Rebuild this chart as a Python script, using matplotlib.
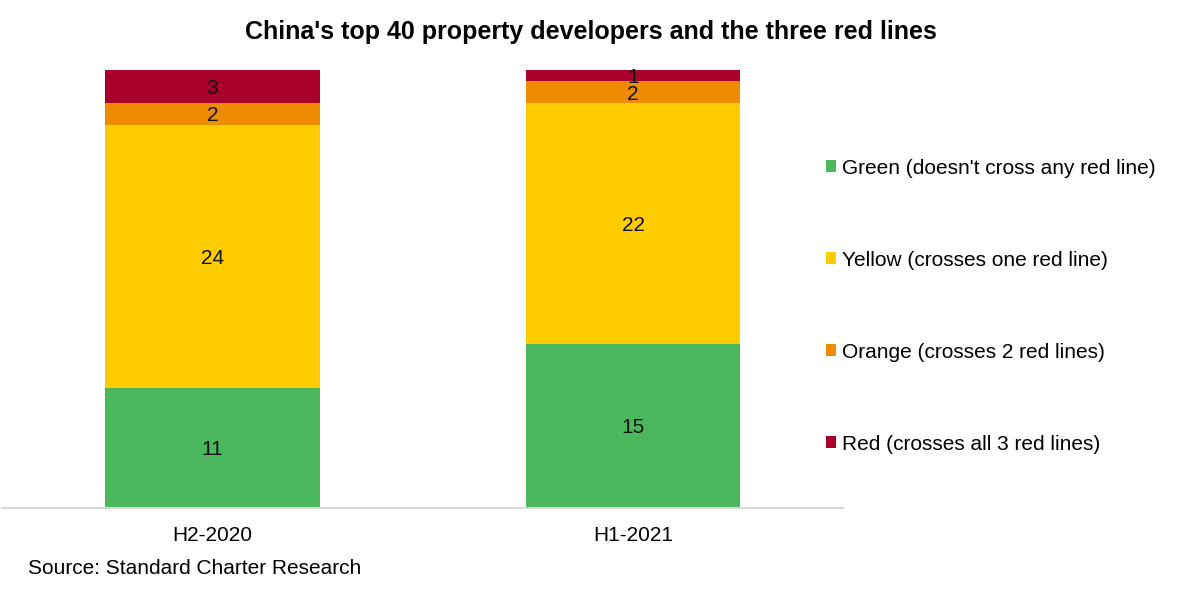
import matplotlib
matplotlib.use('Agg')
import matplotlib.pyplot as plt
from matplotlib.patches import Patch

plt.rcParams['font.family'] = ['Liberation Sans', 'DejaVu Sans']

# ---------- Data ----------
periods = ['H2-2020', 'H1-2021']
green = [11, 15]
yellow = [24, 22]
orange = [2, 2]
red = [3, 1]

series = [
    ("Green (doesn't cross any red line)", green, '#4cb85e'),
    ('Yellow (crosses one red line)', yellow, '#ffcc00'),
    ('Orange (crosses 2 red lines)', orange, '#ee8c00'),
    ('Red (crosses all 3 red lines)', red, '#a8002a'),
]

FS = 15

# ---------- Render ----------
fig = plt.figure(figsize=(11.81, 5.90), dpi=100)
ax = fig.add_axes([0.0017, 0.139, 0.7125, 0.742])

x = list(range(len(periods)))
bottom = [0] * len(periods)
for label, vals, col in series:
    ax.bar(x, vals, width=0.51, bottom=bottom, color=col, label=label, zorder=2)
    for xi, b, v in zip(x, bottom, vals):
        ax.text(xi, b + v / 2, str(v), ha='center', va='center_baseline',
                fontsize=FS, color='#111')
    bottom = [b + v for b, v in zip(bottom, vals)]

ax.set_xlim(-0.5, 1.5)
ax.set_ylim(0, 40)
ax.set_yticks([])
ax.set_xticks(x)
ax.set_xticklabels(periods, fontsize=FS)
ax.tick_params(axis='x', length=0, pad=13)
for s in ['top', 'right', 'left']:
    ax.spines[s].set_visible(False)
ax.spines['bottom'].set_color('#d9d9d9')
ax.spines['bottom'].set_linewidth(1.5)

# Legend: green on top
handles = [Patch(facecolor=c, label=l) for l, _, c in series]
fig.legend(handles=handles, loc='upper left', bbox_to_anchor=(0.692, 0.745),
           frameon=False, fontsize=FS, handlelength=0.5, handleheight=0.5,
           handletextpad=0.3, labelspacing=3.5, borderaxespad=0)

fig.text(0.5, 0.945, "China's top 40 property developers and the three red lines",
         ha='center', va='center', fontsize=18, fontweight='bold', color='#000')
fig.text(0.024, 0.036, 'Source: Standard Charter Research', ha='left', va='center',
         fontsize=FS, color='#000')

fig.savefig('out.png', dpi=100, facecolor='white')
